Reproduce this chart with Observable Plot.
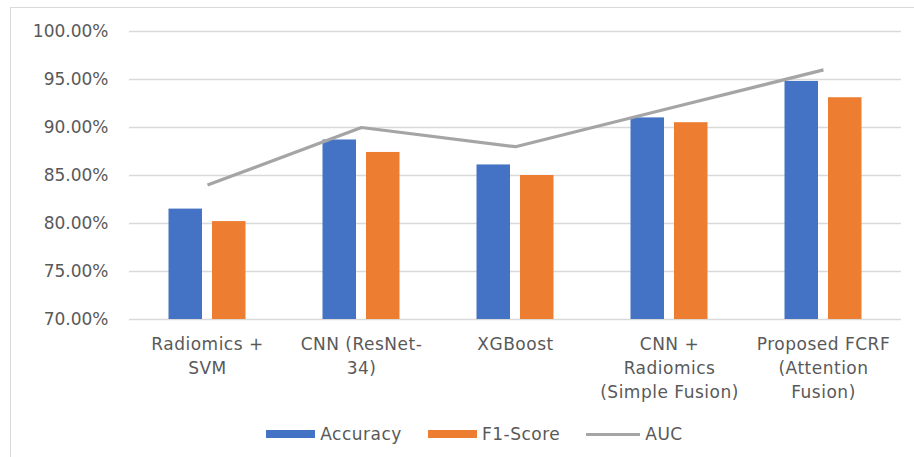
<!DOCTYPE html>
<html>
<head>
<meta charset="utf-8">
<script src="https://cdn.jsdelivr.net/npm/d3@7"></script>
<script src="https://cdn.jsdelivr.net/npm/@observablehq/plot@0.6"></script>
<style>
  html, body { margin: 0; padding: 0; background: #fff; }
  #wrap { position: relative; width: 914px; height: 457px; overflow: hidden; font-family: "DejaVu Sans", sans-serif; }
  #frame { position: absolute; left: 10px; top: 7px; width: 910px; height: 460px; border-top: 1px solid #d9d9d9; border-left: 1px solid #d9d9d9; box-sizing: border-box; pointer-events: none; }
  #chart { position: absolute; left: 0; top: 0; }
  #legend { position: absolute; left: 0; top: 424px; width: 914px; box-sizing: border-box; padding-left: 35px; display: flex; justify-content: center; align-items: center; gap: 26px; font-size: 17px; letter-spacing: 0.5px; color: #595959; }
  .item { display: flex; align-items: center; gap: 5px; }
  .sw { width: 49px; height: 8px; }
  .ln { width: 54px; height: 3px; }
</style>
</head>
<body>
<div id="wrap">
  <div id="frame"></div>
  <div id="chart"></div>
  <div id="legend"></div>
</div>
<script>
const categories = [
  "Radiomics +\nSVM",
  "CNN (ResNet-\n34)",
  "XGBoost",
  "CNN +\nRadiomics\n(Simple Fusion)",
  "Proposed FCRF\n(Attention\nFusion)"
];
const accuracy = [81.5, 88.7, 86.1, 91.0, 94.8];
const f1Score = [80.2, 87.4, 85.0, 90.5, 93.1];
const auc = [84.0, 90.0, 88.0, 92.0, 96.0];
const yTicks = [70, 75, 80, 85, 90, 95, 100];
const seriesNames = ["Accuracy", "F1-Score", "AUC"];
const colors = ["#4472C4", "#ED7D31", "#A5A5A5"];
const baseline = 70;

const data = categories.map((c, i) => ({cat: c, acc: accuracy[i], f1: f1Score[i], auc: auc[i]}));

const chart = Plot.plot({
  width: 914,
  height: 415,
  marginTop: 31,
  marginBottom: 96,
  marginLeft: 129,
  marginRight: 13,
  style: {fontFamily: "DejaVu Sans, sans-serif", fontSize: "17px", color: "#595959", background: "transparent"},
  x: {type: "band", domain: categories, padding: 0},
  y: {domain: [70, 100]},
  marks: [
    Plot.gridY(yTicks, {stroke: "#d9d9d9", strokeOpacity: 1, strokeWidth: 1.3}),
    Plot.axisY(yTicks, {tickSize: 0, tickPadding: 21, tickFormat: d => d.toFixed(2) + "%", fill: "#595959", fontSize: 17, label: null, style: "letter-spacing:0.5px"}),
    Plot.axisX({tickSize: 0, tickPadding: 14, fill: "#595959", fontSize: 17, lineHeight: 1.4, label: null}),
    Plot.barY(data, {x: "cat", y1: baseline, y2: "acc", fill: colors[0], insetLeft: 38.5, insetRight: 82}),
    Plot.barY(data, {x: "cat", y1: baseline, y2: "f1", fill: colors[1], insetLeft: 82, insetRight: 38.5}),
    Plot.line(data, {x: "cat", y: "auc", stroke: colors[2], strokeWidth: 3.2, strokeLinejoin: "miter", strokeLinecap: "butt"})
  ]
});
chart.querySelectorAll('[aria-label="x-axis tick label"] text').forEach(t => t.style.letterSpacing = "0.5px");
document.getElementById("chart").appendChild(chart);

const legend = document.getElementById("legend");
seriesNames.forEach((name, i) => {
  const item = document.createElement("div");
  item.className = "item";
  const sw = document.createElement("div");
  sw.className = i < 2 ? "sw" : "ln";
  sw.style.background = colors[i];
  const label = document.createElement("span");
  label.textContent = name;
  item.appendChild(sw);
  item.appendChild(label);
  legend.appendChild(item);
});
</script>
</body>
</html>
